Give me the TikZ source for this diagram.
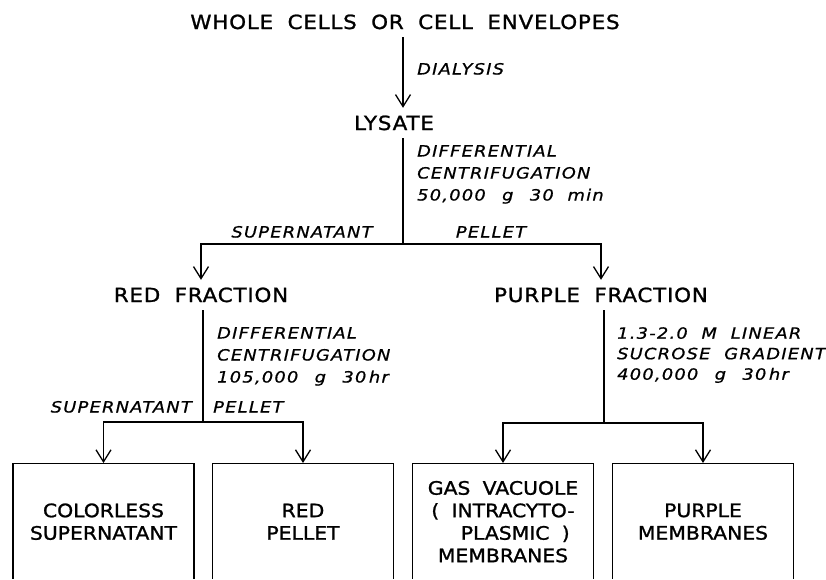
\documentclass[tikz,border=0pt]{standalone}
\usepackage{fontspec}
\setmainfont{DejaVu Sans}[FakeStretch=1.1,FakeBold=1.2,LetterSpace=4,WordSpace=1.9]
\newfontfamily\condfont{DejaVu Sans}[FakeStretch=1.15,FakeBold=0.8,LetterSpace=8,WordSpace=2]
\usetikzlibrary{arrows.meta}
\tikzset{
  stage/.style={font=\fontsize{19.5}{21.5}\selectfont,inner xsep=0pt,inner ysep=8pt,text height=14pt,text depth=0pt},
  fracbox/.style={draw,line width=1.4pt,anchor=north,minimum width=181pt,minimum height=116pt,align=center,inner sep=0pt,font=\addfontfeature{LetterSpace=0}\fontsize{18.5}{22.5}\selectfont},
  cond/.style={font=\condfont\itshape\fontsize{15.5}{22}\selectfont,align=left,inner sep=0pt,anchor=north west},
  tag/.style={font=\condfont\itshape\fontsize{15.5}{17}\selectfont,inner sep=0pt,text height=11pt,text depth=0pt},
  link/.style={line width=1.3pt},
  arr/.style={link,-{Straight Barb[length=12pt,width=15pt,line width=1.3pt]}}
}
\begin{document}
\begin{tikzpicture}[x=1pt,y=-1pt]
\useasboundingbox (0,0) rectangle (826,579);
\clip (-5,-5) rectangle (831,578);
\node[stage] (whole) at (405,22) {WHOLE CELLS OR CELL ENVELOPES};
\node[stage] (lysate) at (394,123) {LYSATE};
\node[stage] (red) at (201,295) {RED FRACTION};
\node[stage] (purple) at (601,295) {PURPLE FRACTION};
\node[fracbox] (colorless) at (103.5,463) {COLORLESS\\SUPERNATANT};
\node[fracbox] (redpel) at (303,463) {RED\\PELLET};
\node[fracbox] (gasvac) at (503,463) {GAS VACUOLE\\( INTRACYTO-\\\ \ PLASMIC )\\MEMBRANES};
\node[fracbox] (purmem) at (703,463) {PURPLE\\MEMBRANES};
\coordinate (lsplit) at (403,244);
\coordinate (rsplit) at (203,422);
\coordinate (psplit) at (604,423);
\draw[arr] (whole.south -| lsplit) -- (lysate.north -| lsplit);
\draw[link] (lysate.south -| lsplit) -- (lsplit);
\draw[arr] (lsplit) -| (red);
\draw[arr] (lsplit) -| (purple);
\draw[link] (red.south -| rsplit) -- (rsplit);
\draw[arr] (rsplit) -| (colorless);
\draw[arr] (rsplit) -| (redpel);
\draw[link] (purple.south -| psplit) -- (psplit);
\draw[arr] (psplit) -| (gasvac);
\draw[arr] (psplit) -| (purmem);
\node[tag,anchor=west] (dialysis) at (417,69) {DIALYSIS};
\node[cond] (cond1) at (417,145) {DIFFERENTIAL\\CENTRIFUGATION\\50,000 \,g \,30 min};
\node[cond] (cond2) at (217,327) {DIFFERENTIAL\\CENTRIFUGATION\\105,000 \,g \,30\,hr};
\node[cond,font=\condfont\itshape\fontsize{15.5}{20.5}\selectfont] (cond3) at (617,327) {1.3-2.0 M LINEAR\\SUCROSE GRADIENT\\400,000 \,g \,30\,hr};
\node[tag] (sup1) at (302,232) {SUPERNATANT};
\node[tag] (pel1) at (491,232) {PELLET};
\node[tag,anchor=east] (sup2) at (192,407) {SUPERNATANT};
\node[tag,anchor=west] (pel2) at (213,407) {PELLET};
\end{tikzpicture}
\end{document}
